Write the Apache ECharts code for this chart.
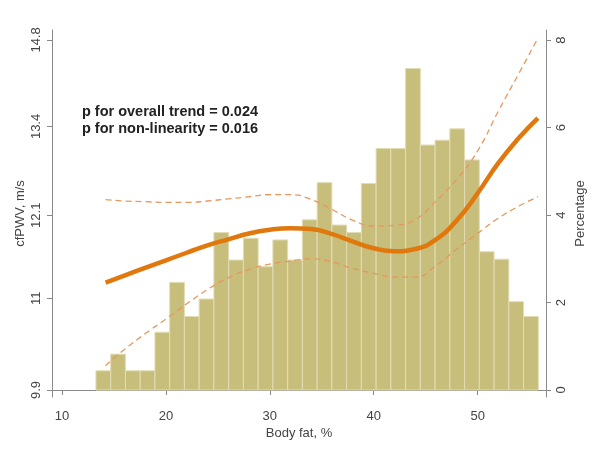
<!DOCTYPE html>
<html><head><meta charset="utf-8">
<script src="https://cdn.jsdelivr.net/npm/echarts@6/dist/echarts.min.js"></script>
<style>html,body{margin:0;padding:0;background:#fff}#c{width:601px;height:459px}</style>
</head><body><div id="c"></div>
<script>
// ---- data ----
const binStart = 13.27;           // body fat %, left edge of first bin
const binWidth = 1.419;           // body fat %, bin width
const binPercent = [0.44, 0.82, 0.44, 0.44, 1.32, 2.46, 1.68, 2.08, 3.60, 2.97,
                    3.47, 2.82, 3.43, 2.97, 3.89, 4.74, 3.77, 3.60, 4.72, 5.52,
                    5.52, 7.35, 5.60, 5.71, 5.97, 5.26, 3.16, 2.99, 2.02, 1.68];
const curveX   = [14.2, 16, 18, 20, 22, 24, 26, 28, 30, 32, 34, 36, 38, 40, 42, 44, 46, 48, 50, 52, 54, 55.8];
const fitPWV   = [11.20, 11.29, 11.39, 11.49, 11.59, 11.69, 11.77, 11.85, 11.90, 11.92, 11.91,
                  11.84, 11.74, 11.65, 11.61, 11.64, 11.77, 12.03, 12.41, 12.85, 13.23, 13.53];
const upperPWV = [12.32, 12.30, 12.29, 12.28, 12.28, 12.30, 12.33, 12.36, 12.39, 12.39, 12.32,
                  12.18, 12.03, 11.95, 11.96, 12.04, 12.30, 12.61, 13.03, 13.64, 14.25, 14.83];
const lowerPWV = [10.18, 10.37, 10.56, 10.74, 10.93, 11.11, 11.26, 11.37, 11.44, 11.48, 11.51,
                  11.47, 11.38, 11.32, 11.27, 11.27, 11.42, 11.64, 11.85, 12.06, 12.23, 12.36];
const xTicks = [10, 20, 30, 40, 50];
const leftTicks = [9.9, 11, 12.1, 13.4, 14.8];
const leftTickLabels = ['9.9', '11', '12.1', '13.4', '14.8'];
const rightTicks = [0, 2, 4, 6, 8];
const xRange = [9.04, 56.58];
const leftRange = [9.82, 14.97];     // cfPWV, m/s (log scale)
const rightRange = [-0.16, 8.23];    // percentage
const xName = 'Body fat, %';
const leftName = 'cfPWV, m/s';
const rightName = 'Percentage';
const statLines = ['p for overall trend = 0.024', 'p for non-linearity = 0.016'];

// ---- chart ----
const chart = echarts.init(document.getElementById('c'), null, {renderer: 'canvas'});
const FONT = 'Liberation Sans';
const TXT = '#444';
const AX = '#8a8a8a';
const toPts = arr => curveX.map((x, i) => [x, Math.log(arr[i])]);
const logTicks = leftTicks.map(Math.log);

const axisCommon = {
  axisLine: {show: true, lineStyle: {color: AX, width: 1}},
  axisTick: {show: true, length: 5, lineStyle: {color: AX}},
  splitLine: {show: false},
  nameMoveOverlap: false,
  nameTextStyle: {color: TXT, fontFamily: FONT, fontSize: 13}
};

chart.setOption({
  animation: false,
  backgroundColor: '#fff',
  grid: {left: 52, right: 55, top: 30, bottom: 62},
  xAxis: Object.assign({}, axisCommon, {
    type: 'value', min: xRange[0], max: xRange[1],
    name: xName, nameLocation: 'middle', nameGap: 30,
    axisLabel: {customValues: xTicks, color: TXT, fontFamily: FONT, fontSize: 13, margin: 13},
    axisTick: {show: true, length: 5, customValues: xTicks, lineStyle: {color: AX}}
  }),
  yAxis: [
    Object.assign({}, axisCommon, {
      type: 'value', position: 'left',
      min: Math.log(leftRange[0]), max: Math.log(leftRange[1]),
      name: leftName, nameLocation: 'middle', nameGap: 25, nameRotate: 90,
      axisLabel: {customValues: logTicks, rotate: 90, color: TXT, fontFamily: FONT, fontSize: 13, margin: 9,
        formatter: v => {
          let best = 0;
          logTicks.forEach((t, i) => { if (Math.abs(t - v) < Math.abs(logTicks[best] - v)) best = i; });
          return leftTickLabels[best];
        }},
      axisTick: {show: true, length: 5, customValues: logTicks, lineStyle: {color: AX}}
    }),
    Object.assign({}, axisCommon, {
      type: 'value', position: 'right',
      min: rightRange[0], max: rightRange[1],
      name: rightName, nameLocation: 'middle', nameGap: 28, nameRotate: 90,
      axisLabel: {customValues: rightTicks, rotate: 90, color: TXT, fontFamily: FONT, fontSize: 13, margin: 9},
      axisTick: {show: true, length: 5, customValues: rightTicks, lineStyle: {color: AX}}
    })
  ],
  series: [
    {
      type: 'custom', xAxisIndex: 0, yAxisIndex: 1, z: 1,
      data: binPercent.map((p, i) => [binStart + i * binWidth, binStart + (i + 1) * binWidth, p]),
      renderItem: (params, api) => {
        const p0 = api.coord([api.value(0), 0]);
        const p1 = api.coord([api.value(1), api.value(2)]);
        return {type: 'rect',
          shape: {x: p0[0], y: p1[1], width: p1[0] - p0[0], height: p0[1] - p1[1]},
          style: {fill: '#c7be7b', stroke: '#e2dcb4', lineWidth: 1}};
      }
    },
    {type: 'line', yAxisIndex: 0, data: toPts(upperPWV), smooth: true, showSymbol: false, z: 3,
     lineStyle: {color: '#e8975c', width: 1.3, type: [6, 4]}},
    {type: 'line', yAxisIndex: 0, data: toPts(lowerPWV), smooth: true, showSymbol: false, z: 3,
     lineStyle: {color: '#e8975c', width: 1.3, type: [6, 4]}},
    {type: 'line', yAxisIndex: 0, data: toPts(fitPWV), smooth: true, showSymbol: false, z: 4,
     lineStyle: {color: '#e0780e', width: 4.5}}
  ],
  graphic: statLines.map((t, i) => ({
    type: 'text', x: 170, y: 112 + i * 16.5, z: 10,
    style: {text: t, textAlign: 'center', textVerticalAlign: 'middle',
            font: 'bold 14.5px "Liberation Sans"', fill: '#222'}
  }))
});
</script></body></html>
